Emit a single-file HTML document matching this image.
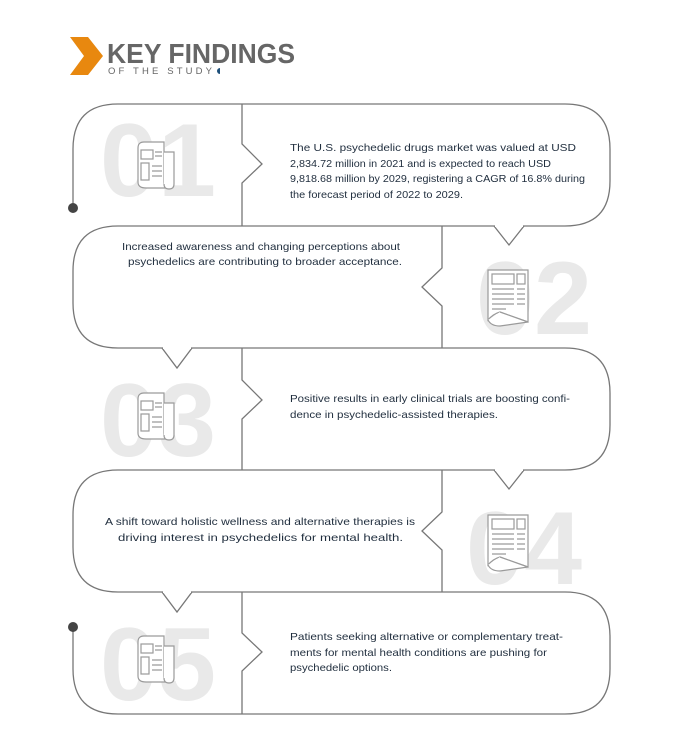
<!DOCTYPE html>
<html><head><meta charset="utf-8"><style>
html,body{margin:0;padding:0;background:#fff;}
svg{display:block;}
.t{font-family:"Liberation Sans",sans-serif;font-size:10.5px;fill:#1f2d3d;}
.n{font-family:"Liberation Sans",sans-serif;font-size:104px;font-weight:bold;fill:#e9e9e9;}
.ic{fill:#fff;stroke:#9a9a9a;stroke-width:1.2;}
</style></head><body>
<svg width="690" height="745" viewBox="0 0 690 745" xmlns="http://www.w3.org/2000/svg">
<defs>
<g id="np1">
 <path class="ic" d="M0,6 Q0,0 6,0 L26,0 L26,40 Q26,46 32,46 L8,46 Q0,46 0,40 Z"/>
 <path class="ic" d="M26,10 L36,10 L36,42 Q36,47 31,47 Q26,47 26,42"/>
 <rect class="ic" x="3" y="8" width="12" height="9"/>
 <rect class="ic" x="3" y="21" width="8" height="17"/>
 <path class="ic" d="M17,10h7M17,14h7M14,24h10M14,29h10M14,34h10"/>
</g>
<g id="np2">
 <path class="ic" d="M0,0 L40,0 L40,52 L12,42 Q5,44 0,50 Z"/>
 <path class="ic" d="M0,50 Q3,56 12,56 L40,52 L12,42"/>
 <rect class="ic" x="4" y="4" width="22" height="10"/>
 <rect class="ic" x="29" y="4" width="8" height="10"/>
 <path class="ic" d="M4,19h22M4,24h22M4,29h22M4,34h22M4,39h14M29,19h8M29,24h8M29,29h8M29,34h8"/>
</g>
</defs>

<!-- header -->
<polygon points="70,37 88,37 103,56 88,75 70,75 84,56" fill="#e8880f"/>
<text x="107" y="63" font-family="Liberation Sans,sans-serif" font-weight="bold" font-size="28" fill="#666" textLength="188" lengthAdjust="spacingAndGlyphs">KEY FINDINGS</text>
<text x="108" y="74" font-family="Liberation Sans,sans-serif" font-size="9.5" fill="#666" textLength="104" lengthAdjust="spacing">OF THE STUDY</text>
<path d="M220,68 a3,3 0 0 0 0,6 Z" fill="#1d4f7a"/>

<!-- big numbers -->
<text class="n" x="100" y="196" textLength="116" lengthAdjust="spacingAndGlyphs">01</text>
<text class="n" x="476" y="334" textLength="116" lengthAdjust="spacingAndGlyphs">02</text>
<text class="n" x="100" y="456" textLength="116" lengthAdjust="spacingAndGlyphs">03</text>
<text class="n" x="466" y="584" textLength="116" lengthAdjust="spacingAndGlyphs">04</text>
<text class="n" x="100" y="700" textLength="116" lengthAdjust="spacingAndGlyphs">05</text>

<!-- icons -->
<use href="#np1" x="138" y="142"/>
<use href="#np2" x="488" y="270"/>
<use href="#np1" x="138" y="393"/>
<use href="#np2" x="488" y="515"/>
<use href="#np1" x="138" y="636"/>

<!-- snake -->
<path d="M73,208 L73,149 Q73,104 118,104 L565,104 Q610,104 610,149 L610,181 Q610,226 565,226 L118,226 Q73,226 73,271 L73,303 Q73,348 118,348 L565,348 Q610,348 610,393 L610,425 Q610,470 565,470 L118,470 Q73,470 73,515 L73,547 Q73,592 118,592 L565,592 Q610,592 610,637 L610,669 Q610,714 565,714 L118,714 Q73,714 73,669 L73,627" fill="none" stroke="#777" stroke-width="1.3"/>
<circle cx="73" cy="208" r="5" fill="#444"/>
<circle cx="73" cy="627" r="5" fill="#444"/>

<!-- down notches -->
<g fill="#fff" stroke="#777" stroke-width="1.3">
 <path d="M494,226 L509,245 L524,226"/>
 <path d="M162,348 L177,368 L192,348"/>
 <path d="M494,470 L509,489 L524,470"/>
 <path d="M162,592 L177,612 L192,592"/>
</g>
<g stroke="#fff" stroke-width="2"><path d="M495,226h28M163,348h28M495,470h28M163,592h28"/></g>

<!-- dividers with notches -->
<g fill="#fff" stroke="#777" stroke-width="1.3">
 <path d="M242,104 L242,144 L262,164 L242,183 L242,226"/>
 <path d="M442,226 L442,268 L422,287 L442,306 L442,348"/>
 <path d="M242,348 L242,380 L262,400 L242,419 L242,470"/>
 <path d="M442,470 L442,512 L422,531 L442,550 L442,592"/>
 <path d="M242,592 L242,633 L262,652 L242,671 L242,714"/>
</g>

<!-- text -->
<text class="t" x="290" y="151" textLength="286" lengthAdjust="spacingAndGlyphs">The U.S. psychedelic drugs market was valued at USD</text>
<text class="t" x="290" y="167" textLength="261" lengthAdjust="spacingAndGlyphs">2,834.72 million in 2021 and is expected to reach USD</text>
<text class="t" x="290" y="182" textLength="295" lengthAdjust="spacingAndGlyphs">9,818.68 million by 2029, registering a CAGR of 16.8% during</text>
<text class="t" x="290" y="198" textLength="173" lengthAdjust="spacingAndGlyphs">the forecast period of 2022 to 2029.</text>

<text class="t" x="122" y="250" textLength="278" lengthAdjust="spacingAndGlyphs">Increased awareness and changing perceptions about</text>
<text class="t" x="128" y="265" textLength="274" lengthAdjust="spacingAndGlyphs">psychedelics are contributing to broader acceptance.</text>

<text class="t" x="290" y="402" textLength="280" lengthAdjust="spacingAndGlyphs">Positive results in early clinical trials are boosting confi-</text>
<text class="t" x="290" y="418" textLength="208" lengthAdjust="spacingAndGlyphs">dence in psychedelic-assisted therapies.</text>

<text class="t" x="105" y="525" textLength="310" lengthAdjust="spacingAndGlyphs">A shift toward holistic wellness and alternative therapies is</text>
<text class="t" x="118" y="541" textLength="285" lengthAdjust="spacingAndGlyphs">driving interest in psychedelics for mental health.</text>

<text class="t" x="290" y="640" textLength="273" lengthAdjust="spacingAndGlyphs">Patients seeking alternative or complementary treat-</text>
<text class="t" x="290" y="656" textLength="257" lengthAdjust="spacingAndGlyphs">ments for mental health conditions are pushing for</text>
<text class="t" x="290" y="671" textLength="102" lengthAdjust="spacingAndGlyphs">psychedelic options.</text>
</svg>
</body></html>
